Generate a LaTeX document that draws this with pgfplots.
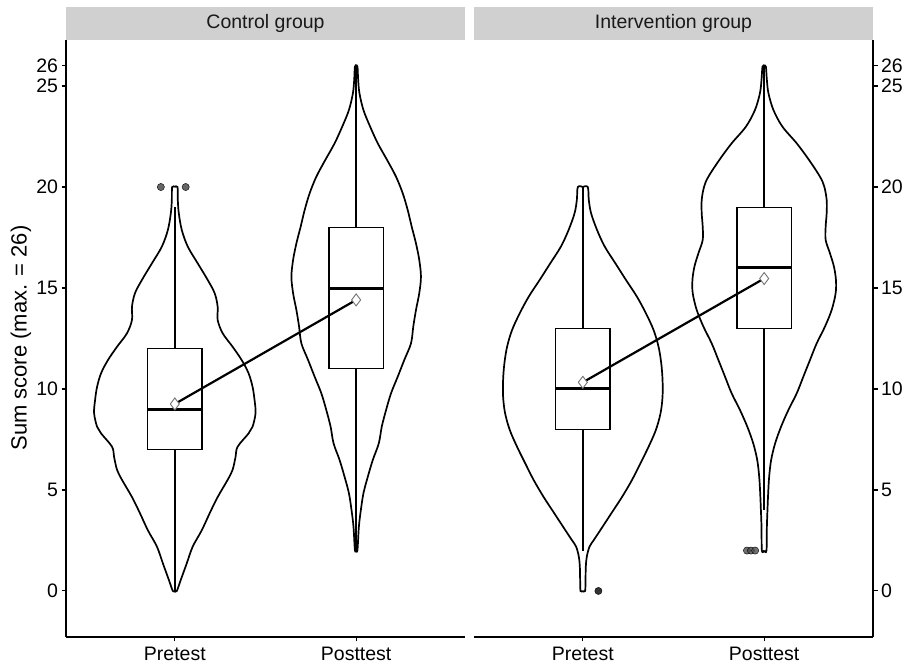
\documentclass[border=0pt]{standalone}
\usepackage{fontspec}
\setmainfont{Liberation Sans}
\usepackage{pgfplots}
\pgfplotsset{compat=1.18}
\usepgfplotslibrary{statistics}
\usepackage{pgfplotstable}
\definecolor{stripgray}{HTML}{D0D0D0}

% violin half-widths in image pixels (182 px = 1 category unit)
\pgfplotstableread{
y h
0 0
0 2
0.55 6
1.37 12
2.2 18
3.0 27
3.85 35
4.65 43
5.5 53
6.0 58
6.65 61
7.14 63
7.8 74
8.13 78
8.80 81
9.46 80
10.11 78
10.78 74
11.44 67
12.09 58
12.76 48
13.42 43
14.07 43
14.74 40
15.40 33
16.22 23
17.05 13
17.87 7
18.70 4
19.36 3
20 2.7
20 0
}\CPre

\pgfplotstableread{
y h
2 0
2.03 1.3
3.18 2.7
4.01 4.7
4.84 7.3
5.66 11.7
6.49 16.7
7.31 22.7
8.14 25.7
8.96 30
9.79 35
10.61 41.7
11.44 48.3
12.26 55
13.09 57.3
13.91 60
14.74 63.3
15.56 65
16.39 63.3
17.21 60
18.04 55.7
18.86 51.7
19.69 46.7
20.51 40
21.34 31
22.16 21.7
22.99 14
23.81 7.3
24.64 3.3
25.30 2
25.96 1.3
26 0
}\CPost

\pgfplotstableread{
y h
0 0
0 2.3
0.55 2.7
1.21 3
1.70 4
2.19 6.7
2.52 11
3.02 17.7
3.85 28.7
4.65 39.3
5.49 49.3
6.31 57.7
7.14 66
7.97 73.3
8.80 78
9.62 80
10.45 80
11.27 78.7
12.09 76
12.92 71
13.75 63.3
14.57 54.3
15.40 43.3
16.22 32.7
17.05 22
17.87 14.3
18.70 8.3
19.36 6
20 5
20 0
}\IPre

\pgfplotstableread{
y h
2 0
2 2.3
3.18 2.7
4.01 3.3
4.84 4
5.66 5
6.49 7
7.31 11
8.14 17
8.96 24.3
9.79 32.7
10.61 39.3
11.44 46
12.26 52.7
13.09 61
13.91 67.7
14.74 71.7
15.40 72
16.06 70
16.72 66
17.38 61.7
18.04 61.7
18.70 62.7
19.36 62.7
20.02 60.3
20.51 56
21.34 45
22.16 32.7
22.99 18.3
23.81 9.3
24.64 4.3
25.30 2.7
25.96 1.7
26 0
}\IPost

\pgfplotsset{
  panel/.style={
    scale only axis, width=399pt, height=597pt,
    xmin=0.4, xmax=2.6, ymin=-2.28, ymax=27.28,
    xtick={1,2}, xticklabels={Pretest,Posttest},
    ytick={0,5,10,15,20,25,26},
    tick align=outside, major tick length=4.5pt,
    tick style={black, line width=1.1pt},
    axis line style={-, line width=1.3pt, black},
    axis x line*=bottom,
    ticklabel style={font=\fontsize{19.5}{21}\selectfont, text=black},
    xticklabel style={yshift=-2pt},
    /pgf/number format/assume math mode=true,
    /pgfplots/boxplot/draw direction=y,
    /pgfplots/boxplot/box extend=0.3,
    /pgfplots/boxplot/whisker extend=0,
    /pgfplots/boxplot/every median/.style={line width=3pt},
  },
  vio/.style={black, line width=1.7pt, smooth, tension=0.55},
  bx/.style={draw=black, fill=white, line width=1.4pt},
  meanline/.style={black, line width=2.2pt},
  meanmark/.style={only marks, mark=diamond*, mark size=6pt, mark options={fill=white, draw=black!55, line width=0.9pt}},
}

\begin{document}
\begin{tikzpicture}
\useasboundingbox (0,0) rectangle (905pt,666pt);

% ---------------- Control group ----------------
\begin{axis}[panel, at={(66pt,29pt)}, anchor=south west, axis y line*=left]
\addplot[vio] table[x expr={1+\thisrow{h}/182}, y=y] {\CPre};
\addplot[vio] table[x expr={1-\thisrow{h}/182}, y=y] {\CPre};
\addplot[vio] table[x expr={2+\thisrow{h}/182}, y=y] {\CPost};
\addplot[vio] table[x expr={2-\thisrow{h}/182}, y=y] {\CPost};
\addplot[bx, boxplot prepared={draw position=1, lower whisker=0, lower quartile=7, median=9, upper quartile=12, upper whisker=19}] coordinates {};
\addplot[bx, boxplot prepared={draw position=2, lower whisker=2, lower quartile=11, median=15, upper quartile=18, upper whisker=26}] coordinates {};
\addplot[only marks, mark=*, mark size=3.6pt, mark options={fill=black!60, draw=none}] coordinates {(0.923,20) (1.06,20)};
\addplot[meanline] coordinates {(1,9.26) (2,14.41)};
\addplot[meanmark] coordinates {(1,9.26) (2,14.41)};
\end{axis}

% ---------------- Intervention group ----------------
\begin{axis}[panel, at={(474pt,29pt)}, anchor=south west, axis y line*=right, yticklabel pos=right]
\addplot[vio] table[x expr={1+\thisrow{h}/182}, y=y] {\IPre};
\addplot[vio] table[x expr={1-\thisrow{h}/182}, y=y] {\IPre};
\addplot[vio] table[x expr={2+\thisrow{h}/182}, y=y] {\IPost};
\addplot[vio] table[x expr={2-\thisrow{h}/182}, y=y] {\IPost};
\addplot[bx, boxplot prepared={draw position=1, lower whisker=2, lower quartile=8, median=10, upper quartile=13, upper whisker=20}] coordinates {};
\addplot[bx, boxplot prepared={draw position=2, lower whisker=4, lower quartile=13, median=16, upper quartile=19, upper whisker=26}] coordinates {};
\addplot[only marks, mark=*, mark size=3.6pt, mark options={fill=black!80, draw=none}] coordinates {(1.086,0)};
\addplot[only marks, mark=*, mark size=3.6pt, mark options={fill=black!70, draw=none, fill opacity=0.8}] coordinates {(1.905,2) (1.927,2) (1.95,2)};
\addplot[meanline] coordinates {(1,10.33) (2,15.47)};
\addplot[meanmark] coordinates {(1,10.33) (2,15.47)};
\end{axis}

% strips
\fill[stripgray] (66pt,626pt) rectangle (465pt,659pt);
\fill[stripgray] (474pt,626pt) rectangle (873pt,659pt);
\node[font=\fontsize{19.5}{21}\selectfont, text=black!90] at (265.5pt,642.5pt) {Control group};
\node[font=\fontsize{19.5}{21}\selectfont, text=black!90] at (673.5pt,642.5pt) {Intervention group};
% y label
\node[rotate=90, font=\fontsize{22}{24}\selectfont, text=black] at (21pt,328pt) {Sum score (max. = 26)};
\end{tikzpicture}
\end{document}
